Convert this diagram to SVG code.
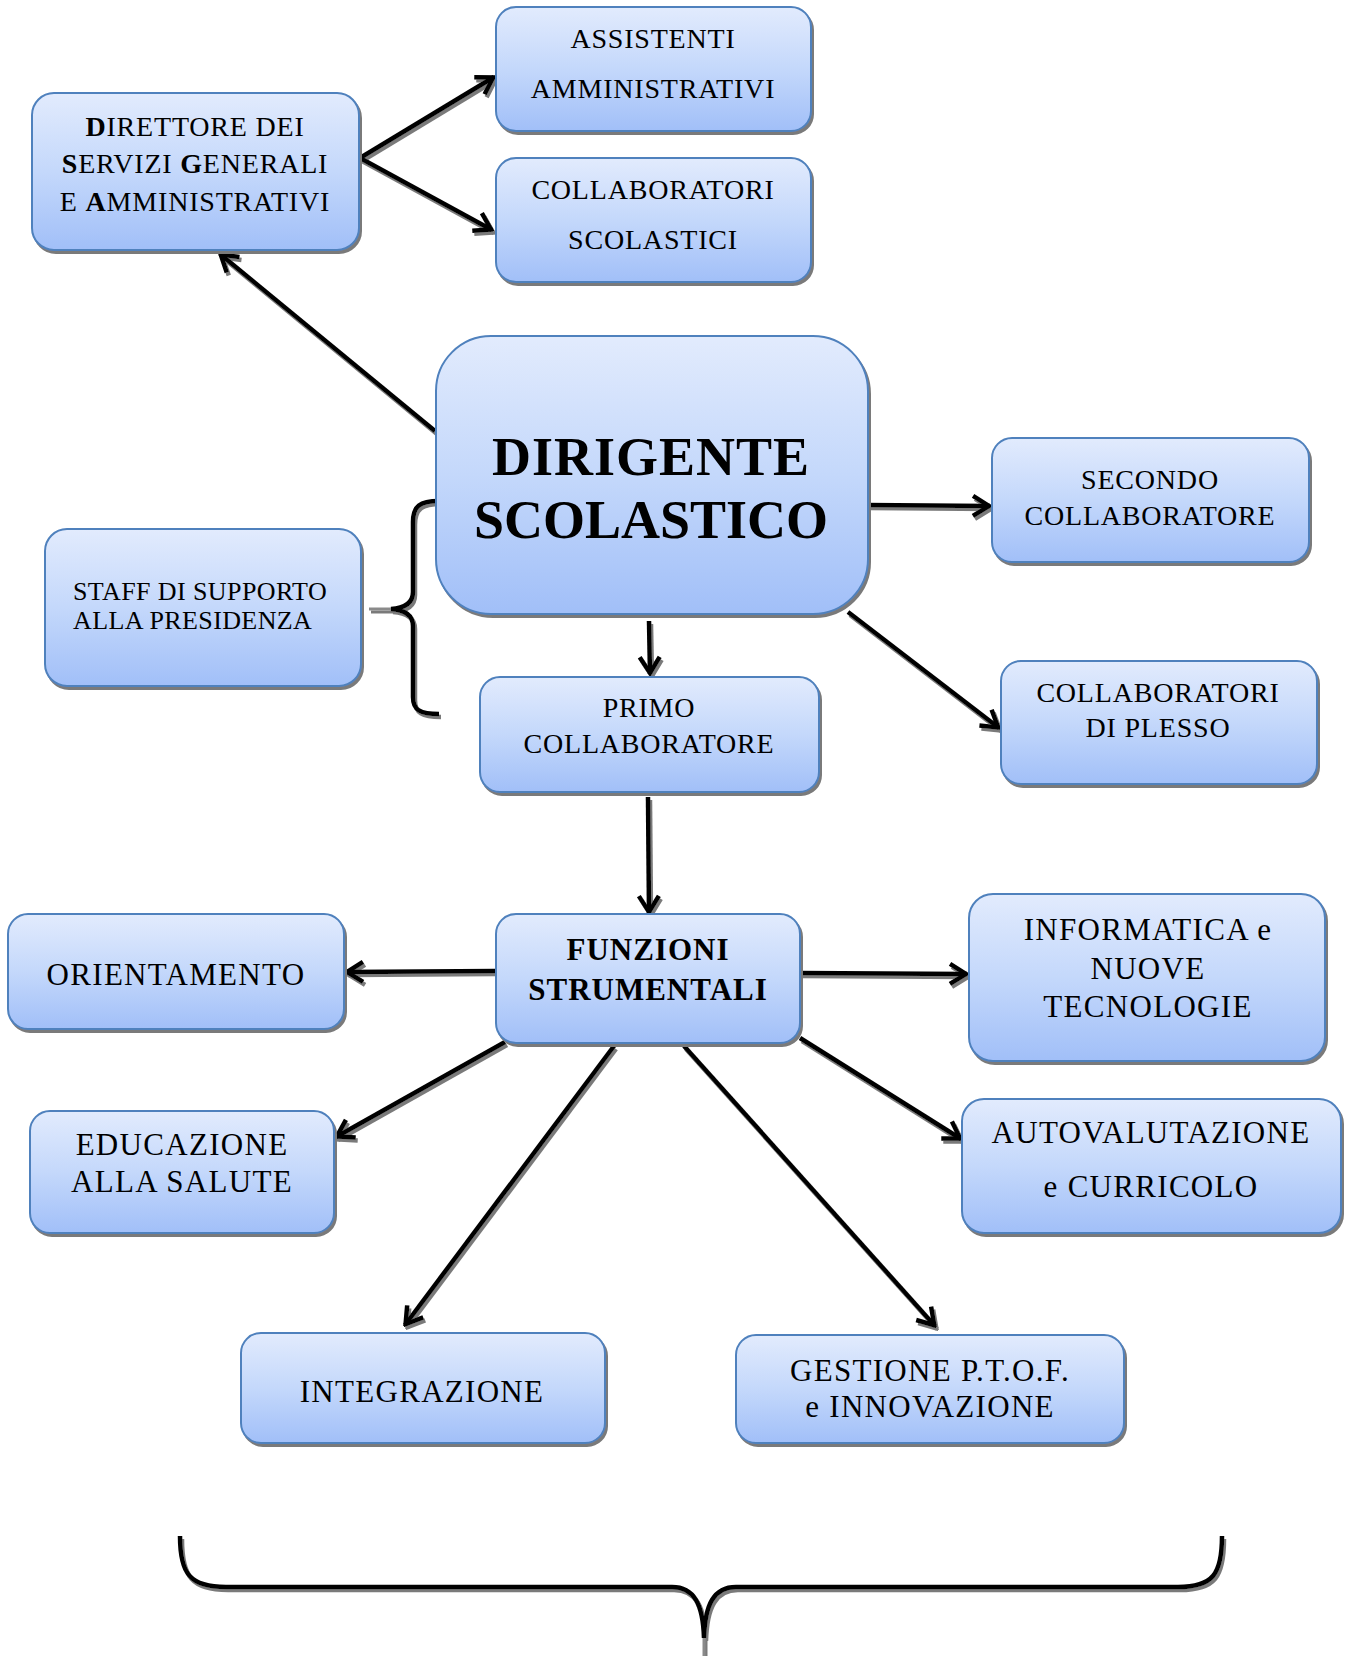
<svg xmlns="http://www.w3.org/2000/svg" width="1345" height="1656" viewBox="0 0 1345 1656">
<defs>
<linearGradient id="g" x1="0" y1="0" x2="0" y2="1">
<stop offset="0" stop-color="#e2ebfd"/>
<stop offset="0.5" stop-color="#c4d8fb"/>
<stop offset="1" stop-color="#a1bff8"/>
</linearGradient>
<filter id="sh" filterUnits="userSpaceOnUse" x="0" y="0" width="1345" height="1656">
<feOffset in="SourceAlpha" dx="2" dy="3" result="o"/>
<feFlood flood-color="#7a7a7a"/>
<feComposite in2="o" operator="in" result="s"/>
<feMerge><feMergeNode in="s"/><feMergeNode in="SourceGraphic"/></feMerge>
</filter>
<marker id="ah" viewBox="0 0 22 26" refX="20" refY="13" markerWidth="22" markerHeight="26" markerUnits="userSpaceOnUse" orient="auto">
<path d="M3,3 L19,13 L3,23" fill="none" stroke="#000" stroke-width="4.5" stroke-linejoin="miter"/>
</marker>
</defs>
<style>
.box{fill:url(#g);stroke:#4f81bd;stroke-width:2;filter:url(#sh)}
.t{font-family:"Liberation Serif","Times New Roman",serif;fill:#000;text-anchor:middle}
.b{font-weight:bold}
.m{font-size:28px;letter-spacing:0.8px}
.l{font-size:31px;letter-spacing:1.3px}
.c{fill:none;stroke:#000;stroke-width:4.5;marker-end:url(#ah)}
.thin{stroke-width:4.5}
.br{fill:none;stroke:#000;stroke-width:4.5}
</style>
<rect width="1345" height="1656" fill="#fff"/>
<g id="connectors" filter="url(#sh)">
<line class="c" x1="360" y1="158" x2="494" y2="77"/>
<line class="c" x1="360" y1="158" x2="492" y2="230"/>
<line class="c thin" x1="435" y1="431" x2="220" y2="254"/>
<line class="c" x1="866" y1="505" x2="990" y2="506"/>
<line class="c" x1="649" y1="621" x2="650" y2="674"/>
<line class="c" x1="848" y1="612" x2="999" y2="728"/>
<line class="c" x1="648" y1="797" x2="649" y2="913"/>
<line class="c" x1="496" y1="971" x2="346" y2="972"/>
<line class="c" x1="800" y1="973" x2="967" y2="974"/>
<line class="c" x1="505" y1="1042" x2="336" y2="1137"/>
<line class="c thin" x1="614" y1="1046" x2="405" y2="1325"/>
<line class="c thin" x1="684" y1="1046" x2="935" y2="1326"/>
<line class="c" x1="800" y1="1038" x2="961" y2="1139"/>
<path class="br" d="M439,501 C420,501 413,506 413,522 L413,592 C413,603 405,608 391,609 C405,610 413,615 413,626 L413,697 C413,710 420,714 439,714"/>
<line x1="369" y1="609" x2="391" y2="609" stroke="#8a8a8a" stroke-width="3"/>
<path class="br" d="M180,1536 C180,1574 190,1587 226,1587 L672,1587 C694,1587 703,1604 704,1638 C705,1604 714,1587 736,1587 L1178,1587 C1213,1587 1222,1574 1222,1536"/>
<line x1="704" y1="1638" x2="704" y2="1656" stroke="#8a8a8a" stroke-width="3"/>
</g>
<g id="dsga">
<rect class="box" x="32" y="93" width="327" height="157" rx="22"/>
<text class="t m"><tspan x="195" y="136"><tspan class="b">D</tspan>IRETTORE DEI</tspan><tspan x="195" y="173"><tspan class="b">S</tspan>ERVIZI <tspan class="b">G</tspan>ENERALI</tspan><tspan x="195" y="211">E <tspan class="b">A</tspan>MMINISTRATIVI</tspan></text>
</g>
<g id="assistenti">
<rect class="box" x="496" y="7" width="315" height="124" rx="20"/>
<text class="t m"><tspan x="653" y="48">ASSISTENTI</tspan><tspan x="653" y="98">AMMINISTRATIVI</tspan></text>
</g>
<g id="collscol">
<rect class="box" x="496" y="158" width="315" height="124" rx="20"/>
<text class="t m"><tspan x="653" y="199">COLLABORATORI</tspan><tspan x="653" y="249">SCOLASTICI</tspan></text>
</g>
<g id="dirigente">
<rect class="box" x="436" y="336" width="432" height="278" rx="55"/>
<text class="t b" font-size="54"><tspan x="651" y="475" letter-spacing="1">DIRIGENTE</tspan><tspan x="651" y="538">SCOLASTICO</tspan></text>
</g>
<g id="secondo">
<rect class="box" x="992" y="438" width="317" height="124" rx="20"/>
<text class="t m"><tspan x="1150" y="489">SECONDO</tspan><tspan x="1150" y="525">COLLABORATORE</tspan></text>
</g>
<g id="staff">
<rect class="box" x="45" y="529" width="316" height="157" rx="22"/>
<text class="t" font-size="26" letter-spacing="0.4" style="text-anchor:start"><tspan x="73" y="600">STAFF DI SUPPORTO</tspan><tspan x="73" y="629">ALLA PRESIDENZA</tspan></text>
</g>
<g id="primo">
<rect class="box" x="480" y="677" width="339" height="115" rx="20"/>
<text class="t m"><tspan x="649" y="717">PRIMO</tspan><tspan x="649" y="753">COLLABORATORE</tspan></text>
</g>
<g id="plesso">
<rect class="box" x="1001" y="661" width="316" height="123" rx="20"/>
<text class="t m"><tspan x="1158" y="702">COLLABORATORI</tspan><tspan x="1158" y="737">DI PLESSO</tspan></text>
</g>
<g id="funzioni">
<rect class="box" x="496" y="914" width="304" height="129" rx="20"/>
<text class="t b" font-size="31" letter-spacing="1"><tspan x="648" y="960">FUNZIONI</tspan><tspan x="648" y="1000">STRUMENTALI</tspan></text>
</g>
<g id="orientamento">
<rect class="box" x="8" y="914" width="336" height="115" rx="20"/>
<text class="t l" x="176" y="985">ORIENTAMENTO</text>
</g>
<g id="informatica">
<rect class="box" x="969" y="894" width="356" height="167" rx="24"/>
<text class="t l"><tspan x="1148" y="940">INFORMATICA e</tspan><tspan x="1148" y="979">NUOVE</tspan><tspan x="1148" y="1017">TECNOLOGIE</tspan></text>
</g>
<g id="educazione">
<rect class="box" x="30" y="1111" width="304" height="122" rx="20"/>
<text class="t l"><tspan x="182" y="1155">EDUCAZIONE</tspan><tspan x="182" y="1192">ALLA SALUTE</tspan></text>
</g>
<g id="autovalutazione">
<rect class="box" x="962" y="1099" width="379" height="134" rx="22"/>
<text class="t l"><tspan x="1151" y="1143">AUTOVALUTAZIONE</tspan><tspan x="1151" y="1197">e CURRICOLO</tspan></text>
</g>
<g id="integrazione">
<rect class="box" x="241" y="1333" width="364" height="110" rx="20"/>
<text class="t l" x="422" y="1402">INTEGRAZIONE</text>
</g>
<g id="gestione">
<rect class="box" x="736" y="1335" width="388" height="108" rx="20"/>
<text class="t l"><tspan x="930" y="1381">GESTIONE P.T.O.F.</tspan><tspan x="930" y="1417">e INNOVAZIONE</tspan></text>
</g>
</svg>
